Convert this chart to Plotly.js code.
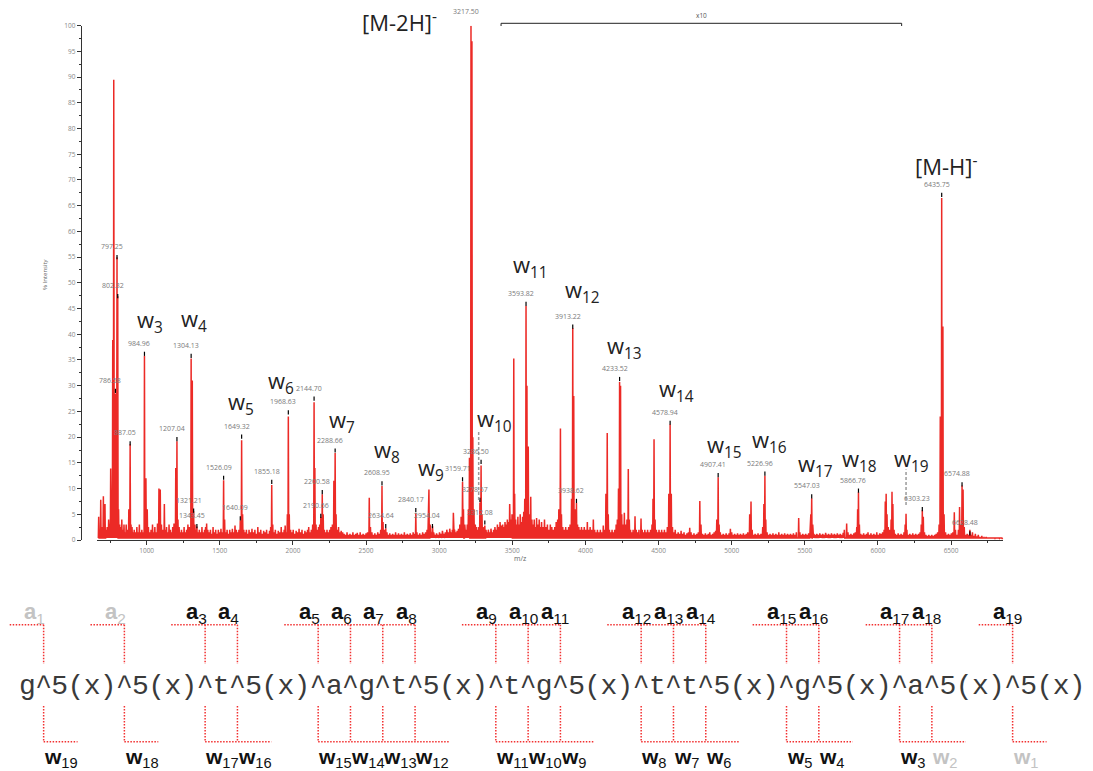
<!DOCTYPE html>
<html><head><meta charset="utf-8">
<script src="https://cdn.plot.ly/plotly-3.0.1.min.js"></script>
<style>html,body{margin:0;padding:0;background:#fff}#chart{width:1093px;height:771px}</style>
</head><body><div id="chart"></div>
<script>
// ---------- DATA ----------
// spectrum peaks: [m/z, % intensity]
const spectrumPeaks = [
[672,4.5],[679,2],[686,7.8],[694,2.5],[704,8.5],[710,3],[715,7],[722,2],[730,2.5],[740,4],
[748,3],[754,13.9],[762,5],[768,38.9],[775,89.5],[781,20],[786.58,28.5],[792,12],[797.25,55],[802.32,47.4],
[808,6],[815,3],[822,2.5],[830,4],[838,2],[845,3],[852,1.5],[860,3],[868,2],[878,6],
[887.05,18.6],[893,3],[900,2.5],[908,1.5],[915,2],[925,1.5],[933,2.5],[942,1.5],[950,3],[958,1.5],
[967,2],[975,1.5],[984.96,35.8],[995,12],[1004,6],[1012,2.5],[1020,1.5],[1030,2],[1040,3],[1048,1.5],
[1056,2.5],[1065,1.5],[1074,3.2],[1084,10],[1093,9.8],[1101,3],[1110,2],[1121,7],[1128,2],[1136,2.5],
[1145,1.5],[1153,3],[1162,2],[1170,1.5],[1178,2.5],[1187,3.2],[1199,14],[1207.04,19.2],[1214,4],[1222,2.5],
[1230,1.5],[1238,2],[1247,1.5],[1256,2.5],[1265,1.5],[1273,2],[1282,3],[1292,2.5],[1304.13,35.3],[1312,31],
[1321.21,5.6],[1330,3],[1337,2],[1343.45,2.6],[1352,1.5],[1360,2],[1370,1.5],[1378,2.5],[1387,1.5],[1396,2],
[1403,2.5],[1410,3.2],[1418,2],[1427,1.5],[1436,2],[1445,1.2],[1454,2.5],[1463,1.5],[1472,2],[1481,1.2],
[1490,2],[1499,1.5],[1508,2.2],[1517,1.5],[1526.09,11.6],[1533,4],[1541,1.5],[1550,2],[1559,1.2],[1568,2],
[1577,1.5],[1586,2.2],[1595,1.5],[1604,2.8],[1613,2],[1622,1.5],[1631,2],[1640.09,3.8],[1649.32,19.4],[1656,5],
[1664,2],[1673,1.5],[1682,2],[1691,1.2],[1700,2],[1710,1.5],[1720,2.2],[1730,1.5],[1740,2],[1750,1.2],
[1760,2.5],[1770,1.5],[1780,2],[1790,1.2],[1800,1.8],[1810,1.5],[1820,2],[1830,1.2],[1840,1.8],[1848,2.5],
[1855.18,10.7],[1862,3],[1870,1.5],[1880,2],[1890,1.2],[1900,1.8],[1910,1.5],[1920,2.5],[1930,1.5],[1940,2],
[1947,2.8],[1956,1.5],[1962,5],[1968.63,24],[1975,5],[1984,2],[1993,1.5],[2002,2],[2012,1.2],[2022,1.8],
[2032,1.5],[2042,2.2],[2052,1.5],[2062,2],[2072,1.2],[2082,1.8],[2092,1.5],[2100,2],[2108,2.5],[2117,1.5],
[2126,2],[2135,3],[2144.70,26.8],[2150,14],[2158,3],[2167,2],[2175,2.5],[2183,3],[2190.66,4.4],[2200.58,8.9],
[2207,5],[2215,2],[2224,1.5],[2233,2],[2242,1.5],[2251,2],[2260,2.5],[2270,3],[2280,11.5],[2288.66,16.9],
[2295,5],[2303,2],[2312,2.5],[2321,1.5],[2330,1.8],[2340,1.5],[2350,1.2],[2360,1],[2370,1.5],[2380,1],
[2390,1.2],[2400,1],[2410,1.5],[2420,1],[2430,1.2],[2440,1.4],[2450,1],[2460,1.5],[2470,1],[2480,1.2],
[2490,1],[2500,1.3],[2510,1.5],[2522,8.2],[2530,2.5],[2540,1.5],[2550,1],[2560,1.3],[2570,1],[2580,1.5],
[2590,1.2],[2600,2],[2608.95,10.5],[2616,3.5],[2625,2],[2634.64,2.3],[2643,1.5],[2652,1],[2662,1.3],[2672,1],
[2682,1.2],[2692,1],[2702,1.5],[2712,1],[2722,1.3],[2732,1],[2742,1.2],[2752,1],[2762,1.5],[2772,1],
[2782,1.2],[2792,1],[2802,1.3],[2812,1],[2822,1.5],[2832,1.2],[2840.17,5.2],[2848,1.5],[2857,1],[2867,1.3],
[2877,1],[2887,1.5],[2897,1.2],[2907,1.5],[2917,2],[2925,4],[2930,9.8],[2938,3],[2946,1.5],[2954.04,2.7],
[2962,1.5],[2972,1],[2982,1.3],[2992,1],[3002,1.5],[3012,1.2],[3022,1.8],[3032,1.2],[3042,1.5],[3052,2],
[3062,1.5],[3072,2.2],[3082,1.5],[3090,2],[3097,5.3],[3105,2],[3114,1.5],[3123,1.8],[3132,2.2],[3141,3],
[3150,4.5],[3159.71,11.3],[3166,6],[3175,3],[3184,2],[3192,3],[3200,6],[3207,16],[3217.50,100],[3224,97],
[3230,20],[3238,6],[3247,3],[3256,2.5],[3264,2],[3271,2.5],[3278.57,7.3],[3286.50,14.5],[3293,5],[3300,2.5],
[3307,2],[3312.08,2.8],[3320,2],[3328,1.5],[3336,2],[3345,1.5],[3354,2.2],[3363,1.5],[3372,2],[3381,2.5],
[3390,2],[3398,3],[3407,2.5],[3416,3.5],[3425,2.8],[3434,3],[3442,2.5],[3450,3.5],[3458,3],[3466,4],
[3474,3.5],[3482,7],[3490,4],[3498,5],[3510,35.3],[3516,9],[3523,4],[3531,3],[3538,4.5],[3546,3],
[3554,5],[3562,3.5],[3570,4.5],[3578,5.5],[3585,8],[3593.82,45.5],[3600,30],[3609,18.2],[3617,5],[3626,8.4],
[3634,4],[3642,3],[3650,4],[3658,2.5],[3666,4.3],[3675,3],[3684,4],[3692,2.5],[3700,3.5],[3710,2.5],
[3720,4],[3730,2.5],[3740,3],[3750,2],[3760,3],[3770,2.5],[3780,2],[3790,2.5],[3800,3.5],[3810,4],
[3818,6],[3829,21.7],[3836,5],[3845,2.5],[3855,2],[3865,2.5],[3875,2],[3885,2.5],[3895,3],[3905,8],
[3913.22,41.2],[3920,28],[3928,6],[3938.62,7.2],[3946,3],[3955,2.5],[3964,2],[3973,2.5],[3982,2],[3992,2.5],
[4002,2],[4013,3.5],[4022,2],[4032,2.5],[4042,2],[4054,4],[4063,2],[4072,1.5],[4082,2],[4092,1.5],
[4102,2],[4112,1.5],[4122,2.8],[4132,2],[4140,9],[4149,20.8],[4156,5],[4164,2],[4173,1.5],[4182,2],
[4192,1.5],[4200,2],[4210,3],[4218,4],[4226,10],[4233.52,30.7],[4240,30],[4248,5],[4256,3],[4266,5.3],
[4275,3],[4284,4],[4293,13.8],[4300,4],[4308,2],[4317,1.5],[4326,2],[4339,4.6],[4347,2],[4356,1.5],
[4366,2],[4380,4.2],[4388,2],[4397,1.5],[4406,2],[4415,1.5],[4425,2],[4435,1.5],[4445,2],[4455,3],
[4462,8],[4469,19.6],[4476,4],[4485,2],[4494,1.5],[4503,2],[4512,1.5],[4521,2],[4530,1.5],[4540,2],
[4550,1.5],[4560,2.5],[4570,9],[4578.94,22.5],[4587,9],[4595,2.5],[4604,1.5],[4614,2],[4624,1.2],[4634,1.5],
[4644,1.2],[4654,1.8],[4664,1.2],[4674,1.5],[4684,1],[4694,1.3],[4704,1.5],[4713,2.4],[4722,1.5],[4732,1],
[4742,1.3],[4752,1],[4762,1.2],[4772,1.5],[4782,7.6],[4790,3],[4800,1.2],[4810,1],[4820,1.3],[4830,1],
[4840,1.2],[4850,1.5],[4860,1],[4870,1.2],[4880,1.5],[4890,1.8],[4898,4],[4907.41,12.2],[4914,3],[4922,1.5],
[4932,1],[4942,1.2],[4952,1],[4962,1.3],[4972,1],[4982,1.3],[4991,2.2],[5000,1.5],[5010,1],[5020,1.2],
[5030,1],[5040,1.3],[5050,1],[5060,1.2],[5070,1],[5080,1.3],[5090,1],[5100,1.2],[5110,1.5],[5123,5],
[5132,7.5],[5140,2],[5150,1],[5160,1.2],[5170,1],[5180,1.3],[5190,1],[5200,1.2],[5212,2.5],[5220,7],
[5226.96,12.5],[5233,4],[5242,1.5],[5252,1],[5262,1.2],[5272,1],[5282,1.3],[5292,1],[5302,1.2],[5312,1],
[5322,1.5],[5332,1],[5342,1.2],[5352,1],[5362,1.3],[5372,1],[5382,1.2],[5392,1],[5402,1.2],[5412,1],
[5422,1.3],[5432,1],[5442,1.5],[5458,4.3],[5466,1.5],[5476,1],[5486,1.2],[5496,1],[5506,1.2],[5516,1],
[5526,1.3],[5536,2],[5541,5],[5547.03,8.1],[5554,3],[5562,1.2],[5572,1],[5582,1.2],[5592,1],[5602,1.3],
[5612,1],[5622,1.2],[5632,1],[5642,1.4],[5652,1],[5662,1.2],[5672,1],[5682,1.3],[5692,1],[5702,1.2],
[5712,1],[5722,1.3],[5732,1],[5742,1.2],[5752,1],[5762,1.4],[5770,2],[5786,3.2],[5795,1.5],[5805,1],
[5815,1.2],[5825,1],[5835,1.3],[5845,1.5],[5855,2.5],[5861,6],[5866.76,9.3],[5873,3],[5882,1.2],[5892,1],
[5902,1.3],[5912,1],[5922,1.2],[5932,1.5],[5942,1],[5952,1.3],[5962,1],[5972,1.2],[5982,1],[5992,1.5],
[6002,1],[6012,1.3],[6022,1.2],[6032,1.5],[6042,2],[6050,7.5],[6056,9],[6062,5],[6070,2.5],[6080,2],
[6090,4],[6096,9.4],[6102,7],[6110,2],[6118,1.2],[6128,1],[6138,1.3],[6148,1],[6158,1.2],[6168,1],
[6178,1.5],[6186,3],[6192,5.1],[6198,2],[6208,1],[6218,1.2],[6228,1],[6238,1.3],[6248,1],[6258,1.2],
[6268,1],[6278,1.2],[6288,1.5],[6296,3],[6303.23,5.8],[6310,4.5],[6318,1.5],[6328,1],[6338,0.8],[6348,1],
[6358,0.8],[6368,1],[6378,0.8],[6388,1],[6398,1.2],[6408,1.5],[6418,3],[6426,24],[6435.75,66.5],[6444,41.5],
[6452,5],[6462,1.5],[6472,1],[6482,1.2],[6492,1],[6502,1.3],[6512,1.5],[6522,5.4],[6530,2],[6540,1],
[6550,2],[6558,6.4],[6566,3],[6574.88,10.6],[6582,9.8],[6590,2.5],[6600,1],[6610,1.2],[6620,1],[6628.48,2],
[6636,1],[6646,1.5],[6656,0.8],[6666,1.2],[6676,0.7],[6686,1],[6696,0.6],[6710,0.8],[6725,0.5],[6740,0.6],
[6760,0.4],[6780,0.5],[6800,0.3],[6830,0.3],[6850,0.2]
];
const peakMz = spectrumPeaks.map(p => p[0]);
const peakInt = spectrumPeaks.map(p => p[1]);

// labelled centroids (m/z) and the height of their marker
const labelMz  = [786.58, 797.25, 802.32, 887.05, 984.96, 1207.04, 1304.13, 1321.21, 1343.45, 1526.09,
                  1640.09, 1649.32, 1855.18, 1968.63, 2144.70, 2190.66, 2200.58, 2288.66, 2608.95, 2634.64,
                  2840.17, 2954.04, 3159.71, 3217.50, 3278.57, 3286.50, 3312.08, 3593.82, 3913.22, 3938.62,
                  4233.52, 4578.94, 4907.41, 5226.96, 5547.03, 5866.76, 6303.23, 6435.75, 6574.88, 6628.48];
const labelInt = [29.0, 55.0, 47.4, 18.8, 36.2, 19.6, 35.8, 5.7, 2.7, 12.1,
                  4.2, 20.1, 11.3, 24.8, 27.5, 4.7, 9.3, 17.4, 11.0, 2.7,
                  5.8, 2.7, 11.8, 100.7, 7.8, 15.2, 3.4, 45.9, 41.5, 7.6,
                  31.3, 22.8, 12.6, 12.9, 8.5, 9.6, 6.0, 67.1, 10.8, 1.3];

// w-ion annotations in the spectrum
const ionNumbers = [3, 4, 5, 6, 7, 8, 9, 10, 11, 12, 13, 14, 15, 16, 17, 18, 19];
const ionLabelMz = [918, 1219, 1542, 1816, 2233, 2541, 2840, 3243, 3493, 3848, 4132, 4489, 4814, 5125, 5442, 5739, 6096];
const ionLabelInt = [42.6, 42.8, 26.6, 30.7, 23.1, 17.3, 13.8, 23.4, 53.2, 48.4, 37.5, 29.2, 18.2, 19.3, 14.6, 15.6, 15.6];
// dashed connectors [m/z, low, high]
const connectors = [[3270, 7.8, 21.3], [6192, 6.8, 13.7]];

const precursorText = ['[M-2H]<sup>-</sup>', '[M-H]<sup>-</sup>'];
const precursorMz = [2457, 6240];
const precursorInt = [100.8, 72.9];

const magnifiedRange = [3423, 6162];
const magnifiedText = 'x10';

const xTicks = [1000, 1500, 2000, 2500, 3000, 3500, 4000, 4500, 5000, 5500, 6000, 6500];
const yTicks = [0, 5, 10, 15, 20, 25, 30, 35, 40, 45, 50, 55, 60, 65, 70, 75, 80, 85, 90, 95, 100];

// sequence / fragmentation map
const sequence = "g^5(x)^5(x)^t^5(x)^a^g^t^5(x)^t^g^5(x)^t^t^5(x)^g^5(x)^a^5(x)^5(x)";
const faintA = [1, 2];
const faintW = [1, 2];

// ---------- LAYOUT CONSTANTS ----------
const W = 1093, H = 771;
const RED = 'rgb(236,42,38)';
const DOT_RED = '#f23030';
const ROW = {aLabel: 612.5, aLine: 624.8, aEnd: 664, text: 687, wStart: 706, wLine: 741.7, wLabel: 757.5};
const EXT = 2.1; // horizontal extension of bracket (characters)
const Y_MAX = 100, PX_PER_UNIT = 5.143;

// ---------- SPECTRUM TRACE ----------
const half = 2.5, base = 0.4;
const sx = [], sy = [];
peakMz.forEach((m, i) => { sx.push(m - half, m, m + half); sy.push(base, peakInt[i], base); });

const traces = [];
traces.push({x: sx, y: sy, type: 'scatter', mode: 'lines', line: {color: RED, width: 1.5},
  hoverinfo: 'skip', xaxis: 'x', yaxis: 'y'});
traces.push({x: labelMz, y: labelInt, type: 'scatter', mode: 'markers', cliponaxis: false,
  marker: {symbol: 'line-ns', size: 3, color: '#000', line: {width: 1.2, color: '#000'}},
  hoverinfo: 'skip', xaxis: 'x', yaxis: 'y'});

// ---------- SEQUENCE ----------
const chars = sequence.split('');
traces.push({x: chars.map((c, i) => i + 0.5), y: chars.map(() => ROW.text), text: chars,
  type: 'scatter', mode: 'text', textposition: 'middle center',
  textfont: {family: 'Liberation Mono, Courier New, monospace', size: 28, color: '#3a3a3a'},
  hoverinfo: 'skip', xaxis: 'x2', yaxis: 'y2'});

// cleavage sites grouped between "(x)" blocks
const groups = []; let cur = [];
chars.forEach((c, i) => {
  if (c === '^') cur.push(i + 0.5);
  if (c === ')') { if (cur.length) groups.push(cur); cur = []; }
});
if (cur.length) groups.push(cur);
const sites = [].concat(...groups);
const nSites = sites.length;

const lx = [], ly = [];
function seg(x0, y0, x1, y1) { lx.push(x0, x1, null); ly.push(y0, y1, null); }
groups.forEach(g => {
  const f = g[0], l = g[g.length - 1];
  seg(f - EXT, ROW.aLine, l, ROW.aLine);
  seg(f, ROW.wLine, l + EXT, ROW.wLine);
  g.forEach(s => { seg(s, ROW.aLine, s, ROW.aEnd); seg(s, ROW.wStart, s, ROW.wLine); });
});
traces.push({x: lx, y: ly, type: 'scatter', mode: 'lines', connectgaps: false,
  line: {color: DOT_RED, width: 1.5, dash: '1.5px,1.5px'}, hoverinfo: 'skip', xaxis: 'x2', yaxis: 'y2'});

// ---------- ANNOTATIONS ----------
const ann = [];
labelMz.forEach((m, i) => {
  const v = labelInt[i], yc = Math.min(v, Y_MAX);
  ann.push({x: m, y: yc, xref: 'x', yref: 'y', text: m.toFixed(2),
    showarrow: false, xanchor: 'center', yanchor: 'middle', xshift: -5, yshift: 10.5 + (v - yc) * PX_PER_UNIT,
    font: {family: 'Open Sans', size: 7, color: '#7a7a7a'}});
});
ionNumbers.forEach((n, i) => ann.push({x: ionLabelMz[i], y: ionLabelInt[i], xref: 'x', yref: 'y',
  text: 'w<sub>' + n + '</sub>', showarrow: false, xanchor: 'left', yanchor: 'middle',
  font: {family: 'Open Sans', size: 22, color: '#222'}}));
precursorText.forEach((t, i) => {
  const v = precursorInt[i], yc = Math.min(v, Y_MAX);
  ann.push({x: precursorMz[i], y: yc, xref: 'x', yref: 'y', yshift: (v - yc) * PX_PER_UNIT,
    text: t, showarrow: false, xanchor: 'left', yanchor: 'middle',
    font: {family: 'Open Sans', size: 22, color: '#222'}});
});
ann.push({x: (magnifiedRange[0] + magnifiedRange[1]) / 2, y: (H - 15) / H, xref: 'x', yref: 'paper',
  xanchor: 'center', yanchor: 'middle',
  text: magnifiedText, showarrow: false, font: {family: 'Open Sans', size: 6.5, color: '#555'}});
ann.push({x: 520 / W, y: (H - 558) / H, xref: 'paper', yref: 'paper', text: 'm/z', showarrow: false,
  xanchor: 'center', yanchor: 'middle', font: {family: 'Open Sans', size: 7, color: '#666'}});
ann.push({x: 45 / W, y: (H - 275) / H, xref: 'paper', yref: 'paper', text: '% Intensity', showarrow: false,
  xanchor: 'center', yanchor: 'middle', textangle: -90, font: {family: 'Open Sans', size: 6, color: '#666'}});

sites.forEach((s, k) => {
  const aNum = k + 1, wNum = nSites - k;
  const aCol = faintA.includes(aNum) ? '#c3c3c3' : '#111';
  const wCol = faintW.includes(wNum) ? '#c3c3c3' : '#111';
  ann.push({x: s, y: ROW.aLabel, xref: 'x2', yref: 'y2', text: '<b>a</b><sub>' + aNum + '</sub>',
    showarrow: false, xanchor: 'left', yanchor: 'middle', xshift: -21.5,
    font: {family: 'Liberation Sans, Arial, sans-serif', size: 22, color: aCol}});
  ann.push({x: s, y: ROW.wLabel, xref: 'x2', yref: 'y2', text: '<b>w</b><sub>' + wNum + '</sub>',
    showarrow: false, xanchor: 'left', yanchor: 'middle', xshift: -0.7, borderpad: 0,
    font: {family: 'Liberation Sans, Arial, sans-serif', size: 21, color: wCol}});
});

// ---------- SHAPES ----------
const shapes = [];
const yb = (H - 23.3) / H, yt = (H - 26) / H;
shapes.push({type: 'line', xref: 'x', yref: 'paper', x0: magnifiedRange[0], x1: magnifiedRange[1], y0: yb, y1: yb, line: {color: '#222', width: 1}});
shapes.push({type: 'line', xref: 'x', yref: 'paper', x0: magnifiedRange[0], x1: magnifiedRange[0], y0: yb, y1: yt, line: {color: '#222', width: 1}});
shapes.push({type: 'line', xref: 'x', yref: 'paper', x0: magnifiedRange[1], x1: magnifiedRange[1], y0: yb, y1: yt, line: {color: '#222', width: 1}});
connectors.forEach(c => shapes.push({type: 'line', xref: 'x', yref: 'y', x0: c[0], x1: c[0], y0: c[1], y1: c[2],
  line: {color: '#9a9a9a', width: 1.5, dash: '3px,2px'}}));

// ---------- AXES ----------
const pxPerMz = 0.14626, mzOff = 0.4;
const xLeft = 96.7, xRight = 1003.3, yBottom = 540, yTop = 25.7;
const layout = {
  width: W, height: H, margin: {l: 0, r: 0, t: 0, b: 0}, paper_bgcolor: '#fff', plot_bgcolor: 'rgba(0,0,0,0)',
  showlegend: false, font: {family: 'Open Sans'},
  xaxis: {domain: [xLeft / W, xRight / W], range: [(xLeft - mzOff) / pxPerMz, (xRight - mzOff) / pxPerMz],
    anchor: 'y', showline: true, linecolor: '#333', linewidth: 1, showgrid: false, zeroline: false,
    ticks: 'outside', ticklen: 4, tickwidth: 1, tickcolor: '#333', tickmode: 'array', tickvals: xTicks,
    ticktext: xTicks.map(String), tickfont: {family: 'Open Sans', size: 6.5, color: '#888'},
    minor: {ticks: 'outside', ticklen: 2, tickwidth: 1, tickcolor: '#333', tickmode: 'linear', tick0: 0, dtick: 250}},
  yaxis: {domain: [(H - yBottom) / H, (H - yTop) / H], range: [0, Y_MAX], anchor: 'free', position: 80.7 / W,
    showline: true, linecolor: '#333', linewidth: 1, showgrid: false, zeroline: false,
    ticks: 'outside', ticklen: 4, tickwidth: 1, tickcolor: '#333', tickmode: 'array', tickvals: yTicks,
    ticktext: yTicks.map(String), tickfont: {family: 'Open Sans', size: 6.5, color: '#888'},
    minor: {ticks: 'outside', ticklen: 2, tickwidth: 1, tickcolor: '#333', tickmode: 'linear', tick0: 0, dtick: 2.5}},
  xaxis2: {domain: [0, 1], range: [-19.4 / 16.15, (W - 19.4) / 16.15], anchor: 'y2', visible: false, fixedrange: true},
  yaxis2: {domain: [0, 1], range: [H, 0], anchor: 'x2', visible: false, fixedrange: true},
  annotations: ann, shapes: shapes
};
Plotly.newPlot('chart', traces, layout, {displayModeBar: false, staticPlot: true});
</script></body></html>
